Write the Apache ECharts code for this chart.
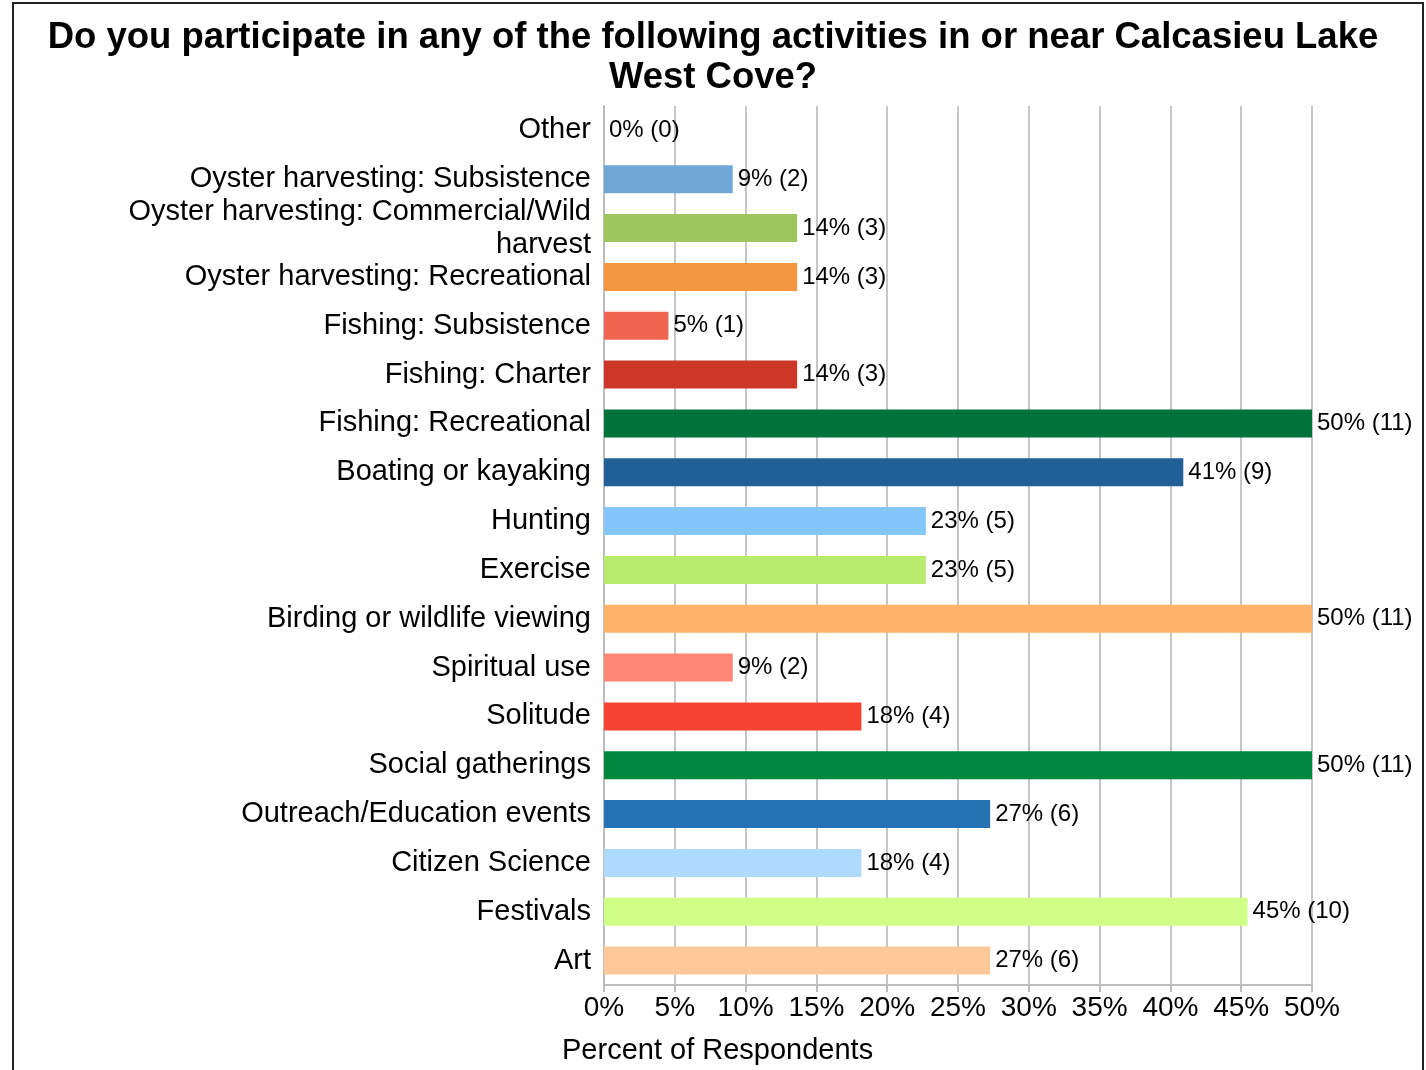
<!DOCTYPE html>
<html>
<head>
<meta charset="utf-8">
<script src="https://cdn.jsdelivr.net/npm/echarts@6/dist/echarts.min.js"></script>
<style>
  html, body { margin: 0; padding: 0; background: #ffffff; }
  #chart { width: 1426px; height: 1070px; }
</style>
</head>
<body>
<div id="chart"></div>
<script>
// Survey responses, listed top to bottom
const activities = [
  'Other',
  'Oyster harvesting: Subsistence',
  'Oyster harvesting: Commercial/Wild harvest',
  'Oyster harvesting: Recreational',
  'Fishing: Subsistence',
  'Fishing: Charter',
  'Fishing: Recreational',
  'Boating or kayaking',
  'Hunting',
  'Exercise',
  'Birding or wildlife viewing',
  'Spiritual use',
  'Solitude',
  'Social gatherings',
  'Outreach/Education events',
  'Citizen Science',
  'Festivals',
  'Art'
];
const percents = [0, 9.09, 13.64, 13.64, 4.55, 13.64, 50, 40.91, 22.73, 22.73, 50, 9.09, 18.18, 50, 27.27, 18.18, 45.45, 27.27];
const counts = [0, 2, 3, 3, 1, 3, 11, 9, 5, 5, 11, 2, 4, 11, 6, 4, 10, 6];
const barColors = [
  '#6fa8d6', '#6fa8d6', '#9dc75a', '#f39640', '#ee6650', '#cc3727',
  '#00733a', '#215f97', '#85c6fc', '#b9ec6e', '#feb26a', '#fe8674',
  '#f44331', '#00893e', '#2673b3', '#aedafe', '#cfff86', '#fec898'
];
const xTicks = [0, 5, 10, 15, 20, 25, 30, 35, 40, 45, 50];

const FONT = '"Liberation Sans", Arial, sans-serif';

// Word-wrap long category names so each line stays within maxChars
function wrapLabel(text, maxChars) {
  const words = text.split(' ');
  const lines = [];
  let cur = '';
  words.forEach(w => {
    const next = cur ? cur + ' ' + w : w;
    if (next.length > maxChars && cur) {
      lines.push(cur);
      cur = w;
    } else {
      cur = next;
    }
  });
  if (cur) lines.push(cur);
  return lines.join('\n');
}

const chart = echarts.init(document.getElementById('chart'));

chart.setOption({
  animation: false,
  backgroundColor: '#ffffff',
  title: {
    text: 'Do you participate in any of the following activities in or near Calcasieu Lake\nWest Cove?',
    left: 'center',
    top: 13,
    textStyle: {
      fontFamily: FONT,
      fontWeight: 'bold',
      fontSize: 36.5,
      lineHeight: 40,
      color: '#000000'
    }
  },
  grid: {
    left: 604,
    right: 114,
    top: 106,
    bottom: 85,
    containLabel: false
  },
  xAxis: {
    type: 'value',
    min: xTicks[0],
    max: xTicks[xTicks.length - 1],
    interval: 5,
    axisLine: { show: true, lineStyle: { color: '#bdbdbd', width: 2 } },
    axisTick: { show: true, length: 7, lineStyle: { color: '#bdbdbd', width: 2 } },
    axisLabel: {
      formatter: v => v + '%',
      fontFamily: FONT,
      fontSize: 28,
      color: '#000000',
      margin: 9
    },
    splitLine: { show: true, lineStyle: { color: '#c6c6c6', width: 2 } }
  },
  yAxis: {
    type: 'category',
    inverse: true,
    data: activities,
    axisLine: { show: true, lineStyle: { color: '#bdbdbd', width: 2 } },
    axisTick: { show: false },
    axisLabel: {
      fontFamily: FONT,
      fontSize: 29,
      lineHeight: 33,
      color: '#000000',
      margin: 13,
      align: 'right',
      formatter: v => wrapLabel(v, 34)
    }
  },
  series: [{
    type: 'bar',
    barWidth: 28,
    data: percents.map((p, i) => ({
      value: p,
      itemStyle: { color: barColors[i] }
    })),
    label: {
      show: true,
      position: 'right',
      distance: 5,
      fontFamily: FONT,
      fontSize: 24,
      color: '#000000',
      formatter: p => Math.round(p.value) + '% (' + counts[p.dataIndex] + ')'
    }
  }],
  graphic: [
    {
      type: 'rect',
      shape: { x: 13, y: 3, width: 1410, height: 1080 },
      style: { fill: 'none', stroke: '#222222', lineWidth: 2 },
      silent: true
    },
    {
      type: 'text',
      left: 562,
      top: 1036,
      style: {
        text: 'Percent of Respondents',
        fontFamily: FONT,
        fontSize: 29,
        fill: '#000000'
      }
    }
  ]
});
</script>
</body>
</html>
